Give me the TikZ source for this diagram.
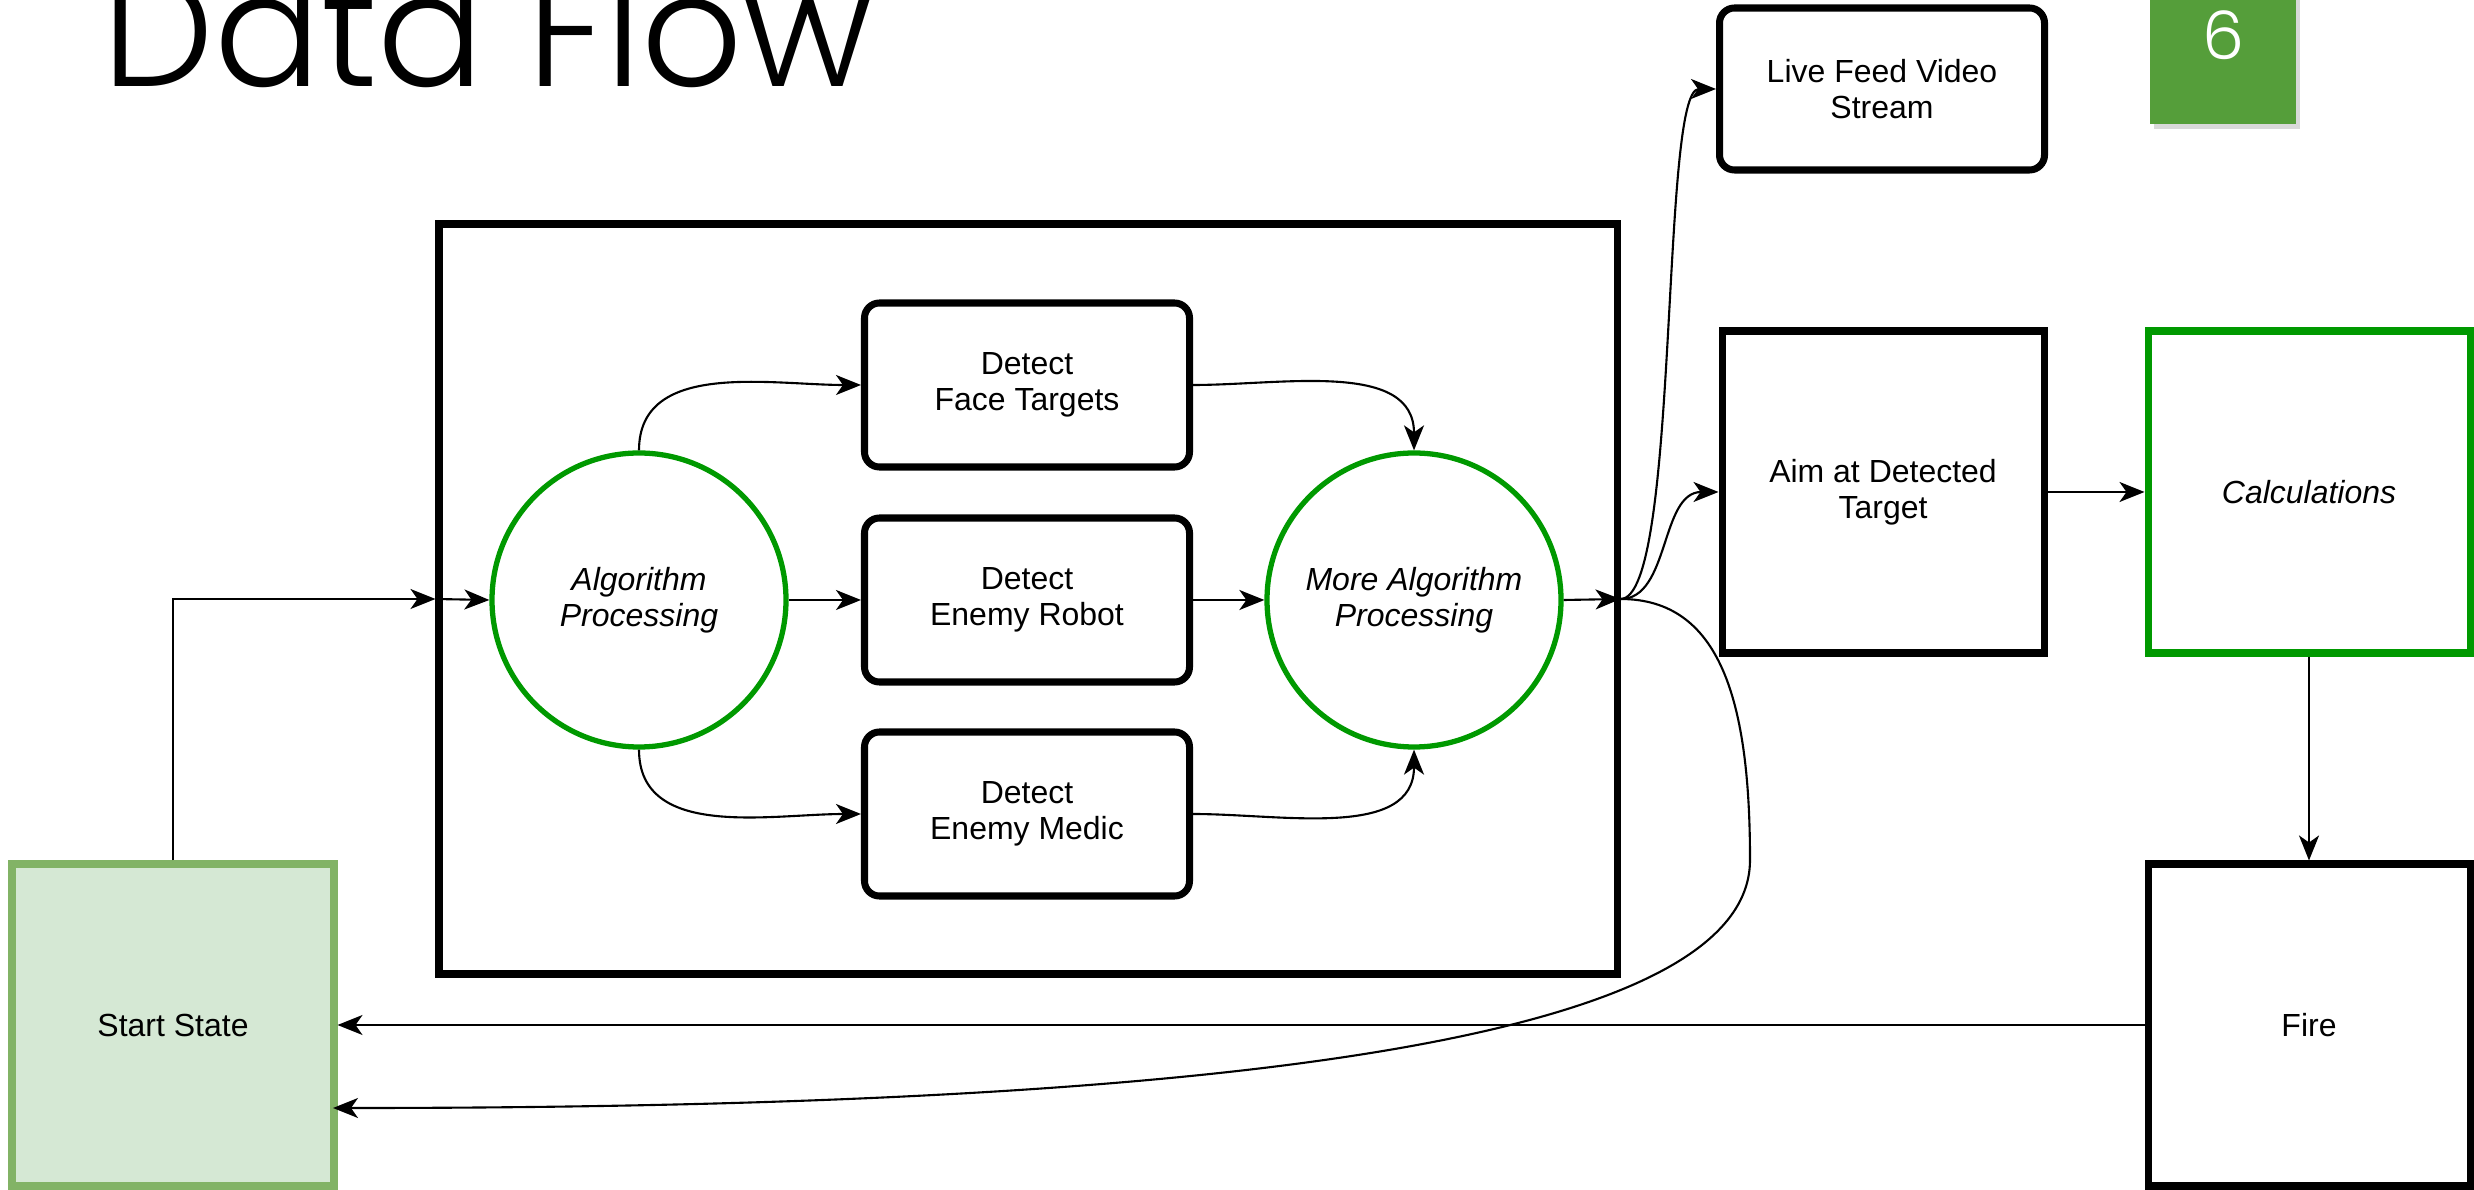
\documentclass[tikz,border=0pt]{standalone}
\usepackage{fontspec}
\setmainfont{Liberation Sans}
\newfontfamily\titlefont{Poppins Light}
\usepackage{xcolor}
\usetikzlibrary{arrows.meta, shapes, shadows}
\definecolor{procgreen}{HTML}{009900}
\definecolor{startfill}{HTML}{D5E8D4}
\definecolor{startline}{HTML}{82B366}
\definecolor{badgegreen}{HTML}{559E3A}

\begin{document}
\begin{tikzpicture}[
  txt/.style={font=\fontsize{9.1}{10.3}\selectfont, align=center},
  stepbox/.style={txt, rectangle, draw, line width=2pt, minimum width=3.22cm,
                  minimum height=3.22cm},
  detectbox/.style={txt, rectangle, draw, line width=2pt, rounded corners=0.15cm,
                    minimum width=3.25cm, minimum height=1.64cm},
  procnode/.style={txt, circle, draw=procgreen, line width=1.5pt,
                   minimum size=2.94cm, font=\fontsize{9.1}{10.3}\selectfont\itshape},
  flow/.style={line width=0.6pt, -{Stealth[length=0.25cm, width=0.2cm, inset=0.07cm]}}
]
\useasboundingbox (0,0) rectangle (24.74,11.89);

\node[anchor=base west, inner sep=0, font=\titlefont\fontsize{45}{45}\selectfont] (title) at (1.02,11.02) {Data Flow};
\node[rectangle, fill=badgegreen, minimum width=1.46cm, minimum height=1.30cm,
      drop shadow={opacity=0.3, shadow xshift=0.04cm, shadow yshift=-0.05cm}] (badge) at (22.23,11.30) {};
\node[text=white, font=\titlefont\fontsize{19}{19}\selectfont] (pagenum) at (22.23,11.54) {6};

\node[draw, line width=2pt, minimum width=11.78cm, minimum height=7.50cm] (frame) at (10.28,5.90) {};

\node[procnode] (alg)  at (6.39,5.89)  {Algorithm\\Processing};
\node[procnode] (more) at (14.14,5.89) {More Algorithm\\Processing};
\node[detectbox] (face)  at (10.27,8.04) {Detect\\Face Targets};
\node[detectbox] (robot) at (10.27,5.89) {Detect\\Enemy Robot};
\node[detectbox] (medic) at (10.27,3.75) {Detect\\Enemy Medic};

\node[detectbox, minimum height=1.62cm] (live) at (18.82,11.00) {Live Feed Video\\Stream};
\node[stepbox] (aim)  at (18.83,6.97) {Aim at Detected\\Target};
\node[stepbox, draw=procgreen, font=\fontsize{9.1}{10.3}\selectfont\itshape] (calc) at (23.09,6.97) {Calculations};
\node[stepbox] (fire) at (23.09,1.64) {Fire};
\node[stepbox, draw=startline, fill=startfill] (start) at (1.73,1.64) {Start State};
\coordinate (loopend) at (3.33,0.81);

\draw[flow] (start.north) |- (frame.west);
\draw[flow] (frame.west) -- (alg.west);
\draw[flow] (alg.east) -- (robot.west);
\draw[flow] (robot.east) -- (more.west);
\draw[flow] (alg.north) to[out=90, in=180] (face.west);
\draw[flow] (alg.south) to[out=-90, in=180] (medic.west);
\draw[flow] (face.east) to[out=0, in=90] (more.north);
\draw[flow] (medic.east) to[out=0, in=-90] (more.south);
\draw[flow] (more.east) -- (frame.east);

\draw[flow] (frame.east) .. controls (16.80,5.90) and (16.60,11.00) .. (live.west);
\draw[flow] (frame.east) .. controls (16.70,5.90) and (16.60,6.97) .. (aim.west);
\draw[flow] (frame.east) .. controls (17.20,5.90) and (17.50,4.89) .. (17.50,3.29)
            .. controls (17.50,1.29) and (11.00,0.81) .. (loopend);

\draw[flow] (aim.east) -- (calc.west);
\draw[flow] (calc.south) -- (fire.north);
\draw[flow] (fire.west) -- (start.east);
\end{tikzpicture}
\end{document}
